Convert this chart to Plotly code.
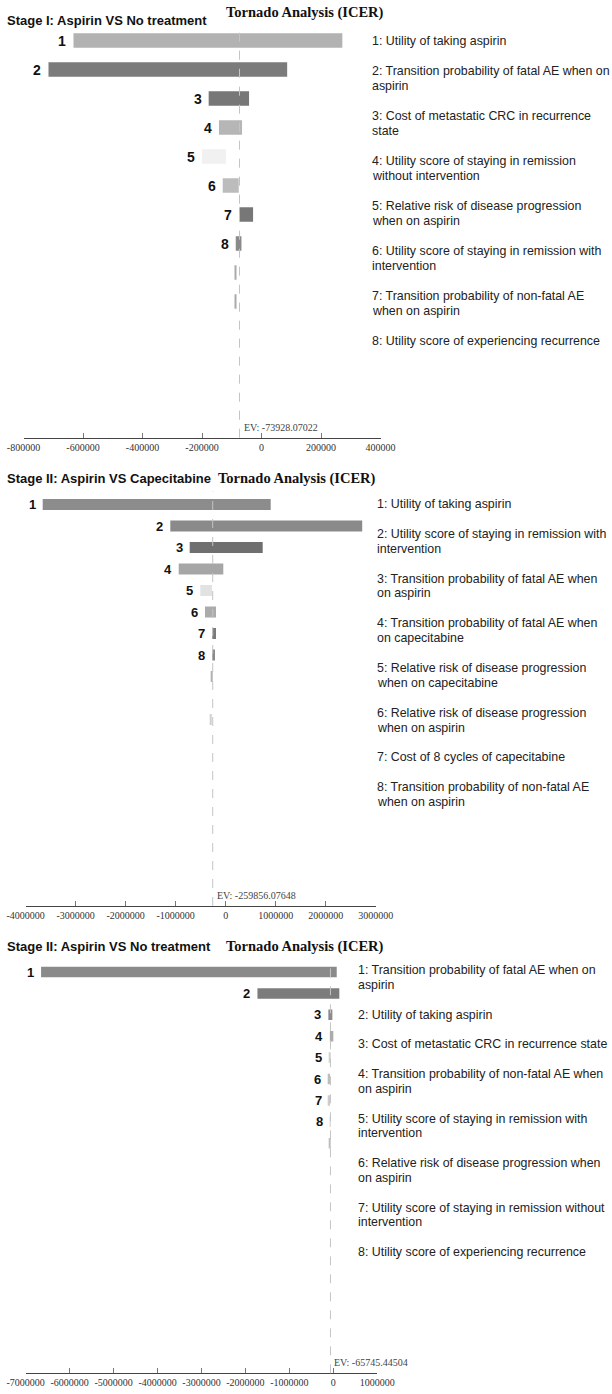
import plotly.graph_objects as go

W, H = 612, 1394
SANS = "Liberation Sans, Arial, sans-serif"
SERIF = "Liberation Serif, Times New Roman, serif"
MAIN_TITLE = "Tornado Analysis (ICER)"

# ---------------- Panel 1 data ----------------
p1_subtitle = "Stage I: Aspirin VS No treatment"
p1_ev = -73928.07022
p1_ev_label = "EV: -73928.07022"
p1_low = [-632000, -716000, -177600, -142900, -200200, -130400, -74000, -86600, -89000, -89000]
p1_high = [271700, 86300, -41800, -65400, -119300, -76500, -28300, -67400, -84500, -84500]
p1_colors = ["#b2b2b2", "#7b7b7b", "#777777", "#b6b6b6", "#f1f1f1", "#bcbcbc",
             "#777777", "#8a8a8a", "#aaaaaa", "#aaaaaa"]
p1_tickvals = [-800000, -600000, -400000, -200000, 0, 200000, 400000]
p1_ticktext = ["-800000", "-600000", "-400000", "-200000", "0", "200000", "400000"]
p1_legend = [
    ["1: Utility of taking aspirin"],
    ["2: Transition probability of fatal AE when on", "aspirin"],
    ["3: Cost of metastatic CRC in recurrence", "state"],
    ["4: Utility score of staying in remission", "without intervention"],
    ["5: Relative risk of disease progression", "when on aspirin"],
    ["6: Utility score of staying in remission with", "intervention"],
    ["7: Transition probability of non-fatal AE", "when on aspirin"],
    ["8: Utility score of experiencing recurrence"],
]

# ---------------- Panel 2 data ----------------
p2_subtitle = "Stage II: Aspirin VS Capecitabine"
p2_ev = -259856.07648
p2_ev_label = "EV: -259856.07648"
p2_low = [-3660000, -1108000, -720000, -940000, -508000, -414000, -268000, -268000,
          -290000, -260000, -310000]
p2_high = [900000, 2730000, 740000, -48000, -274000, -194000, -194000, -214000,
           -272000, -260000, -290000]
p2_colors = ["#8c8c8c", "#8a8a8a", "#6f6f6f", "#a6a6a6", "#e2e2e2", "#ababab",
             "#7a7a7a", "#8a8a8a", "#b0b0b0", "#cccccc", "#d0d0d0"]
p2_tickvals = [-4000000, -3000000, -2000000, -1000000, 0, 1000000, 2000000, 3000000]
p2_ticktext = ["-4000000", "-3000000", "-2000000", "-1000000", "0", "1000000", "2000000", "3000000"]
p2_legend = [
    ["1: Utility of taking aspirin"],
    ["2: Utility score of staying in remission with", "intervention"],
    ["3: Transition probability of fatal AE when", "on aspirin"],
    ["4: Transition probability of fatal AE when", "on capecitabine"],
    ["5: Relative risk of disease progression", "when on capecitabine"],
    ["6: Relative risk of disease progression", "when on aspirin"],
    ["7: Cost of 8 cycles of capecitabine"],
    ["8: Transition probability of non-fatal AE", "when on aspirin"],
]

# ---------------- Panel 3 data ----------------
p3_subtitle = "Stage II: Aspirin VS No treatment"
p3_ev = -65745.44504
p3_ev_label = "EV: -65745.44504"
p3_low = [-6650000, -1727000, -114000, -80000, -91000, -114000, -110000, -66000, -92000]
p3_high = [77000, 136000, -23000, 0, -60000, -75000, -75000, -65000, -70000]
p3_colors = ["#8a8a8a", "#7c7c7c", "#8a8a8a", "#acacac", "#cfcfcf", "#bdbdbd",
             "#cccccc", "#cccccc", "#bdbdbd"]
p3_tickvals = [-7000000, -6000000, -5000000, -4000000, -3000000, -2000000, -1000000, 0, 1000000]
p3_ticktext = ["-7000000", "-6000000", "-5000000", "-4000000", "-3000000", "-2000000",
               "-1000000", "0", "1000000"]
p3_legend = [
    ["1: Transition probability of fatal AE when on", "aspirin"],
    ["2: Utility of taking aspirin"],
    ["3: Cost of metastatic CRC in recurrence state"],
    ["4: Transition probability of non-fatal AE when", "on aspirin"],
    ["5: Utility score of staying in remission with", "intervention"],
    ["6: Relative risk of disease progression when", "on aspirin"],
    ["7: Utility score of staying in remission without", "intervention"],
    ["8: Utility score of experiencing recurrence"],
]

n_labeled = 8

panels = [
    dict(sub=p1_subtitle, ev=p1_ev, evl=p1_ev_label, low=p1_low, high=p1_high, colors=p1_colors,
         tv=p1_tickvals, tt=p1_ticktext, legend=p1_legend,
         xpx=(23.5, 380.5), top=27, bottom=437.7, c0=40.5, step=29.0, bw=0.5,
         sub_y=20, title_x=224, title_y=12, num_size=14, leg_x=370, leg_y=40.7, leg_lh=15.0,
         ev_y=427),
    dict(sub=p2_subtitle, ev=p2_ev, evl=p2_ev_label, low=p2_low, high=p2_high, colors=p2_colors,
         tv=p2_tickvals, tt=p2_ticktext, legend=p2_legend,
         xpx=(25.7, 375.7), top=491.5, bottom=906.0, c0=504.5, step=21.5, bw=0.51,
         sub_y=478, title_x=216, title_y=478, num_size=13, leg_x=375, leg_y=504.0, leg_lh=14.9,
         ev_y=895),
    dict(sub=p3_subtitle, ev=p3_ev, evl=p3_ev_label, low=p3_low, high=p3_high, colors=p3_colors,
         tv=p3_tickvals, tt=p3_ticktext, legend=p3_legend,
         xpx=(25.7, 377.3), top=960, bottom=1373.3, c0=972.0, step=21.4, bw=0.49,
         sub_y=946.5, title_x=224, title_y=946.5, num_size=13, leg_x=356, leg_y=970.0, leg_lh=14.85,
         ev_y=1362),
]

fig = go.Figure()
annotations = []
shapes = []
layout_axes = {}


def py(p):
    return 1 - p / H


for k, p in enumerate(panels):
    sfx = "" if k == 0 else str(k + 1)
    xa, ya = "x" + sfx, "y" + sfx
    n = len(p["low"])
    idx = list(range(n))
    fig.add_trace(go.Bar(
        y=idx, x=[h - l for l, h in zip(p["low"], p["high"])], base=p["low"],
        orientation="h", width=p["bw"], marker=dict(color=p["colors"], line=dict(width=0)),
        xaxis=xa, yaxis=ya, showlegend=False, hoverinfo="skip"))

    xr = (p["tv"][0], p["tv"][-1])
    layout_axes["xaxis" + sfx] = dict(
        domain=[p["xpx"][0] / W, p["xpx"][1] / W], range=list(xr), anchor=ya,
        showline=True, linecolor="#444444", linewidth=1, ticks="inside", ticklen=5,
        tickcolor="#777777", tickwidth=1, tickvals=p["tv"], ticktext=p["tt"],
        tickfont=dict(family=SERIF, size=10, color="#333333"), showgrid=False,
        zeroline=False, fixedrange=True, automargin=False)
    layout_axes["yaxis" + sfx] = dict(
        domain=[py(p["bottom"]), py(p["top"])],
        range=[(p["bottom"] - p["c0"]) / p["step"], (p["top"] - p["c0"]) / p["step"]],
        anchor=xa, visible=False, fixedrange=True, automargin=False)

    # EV dashed line
    shapes.append(dict(type="line", xref=xa, yref=ya + " domain", x0=p["ev"], x1=p["ev"],
                       y0=0, y1=1, layer="above",
                       line=dict(color="#c4c4c4", width=1, dash="dash")))
    annotations.append(dict(xref=xa, yref="paper", x=p["ev"], y=py(p["ev_y"]), xshift=2,
                            xanchor="left", yanchor="middle", showarrow=False, text=p["evl"],
                            font=dict(family=SERIF, size=10, color="#444444")))
    # number labels
    for i in range(n_labeled):
        annotations.append(dict(xref=xa, yref=ya, x=min(p["low"][i], p["high"][i]), y=i,
                                xanchor="right", yanchor="middle", xshift=-5, showarrow=False,
                                text="<b>%d</b>" % (i + 1),
                                font=dict(family=SANS, size=p["num_size"], color="#111111")))
    # titles
    annotations.append(dict(xref="paper", yref="paper", x=5 / W, y=py(p["sub_y"]),
                            xanchor="left", yanchor="middle", showarrow=False,
                            text="<b>%s</b>" % p["sub"],
                            font=dict(family=SANS, size=13, color="#111111")))
    annotations.append(dict(xref="paper", yref="paper", x=p["title_x"] / W, y=py(p["title_y"]),
                            xanchor="left", yanchor="middle", showarrow=False,
                            text="<b>%s</b>" % MAIN_TITLE,
                            font=dict(family=SERIF, size=14.5, color="#111111")))
    # legend text
    line_no = 0
    for item in p["legend"]:
        for line in item:
            annotations.append(dict(xref="paper", yref="paper", x=p["leg_x"] / W,
                                    y=py(p["leg_y"] + line_no * p["leg_lh"]),
                                    xanchor="left", yanchor="middle", showarrow=False,
                                    text=line, font=dict(family=SANS, size=12.4, color="#222222")))
            line_no += 1
        line_no += 1

fig.update_layout(
    width=W, height=H, margin=dict(l=0, r=0, t=0, b=0, pad=0, autoexpand=False),
    paper_bgcolor="white", plot_bgcolor="white",
    barmode="overlay", annotations=annotations, shapes=shapes, **layout_axes)

fig.write_html("out.html", config={"displayModeBar": False},
               post_script="document.body.style.margin='0';document.body.style.overflow='hidden';")
